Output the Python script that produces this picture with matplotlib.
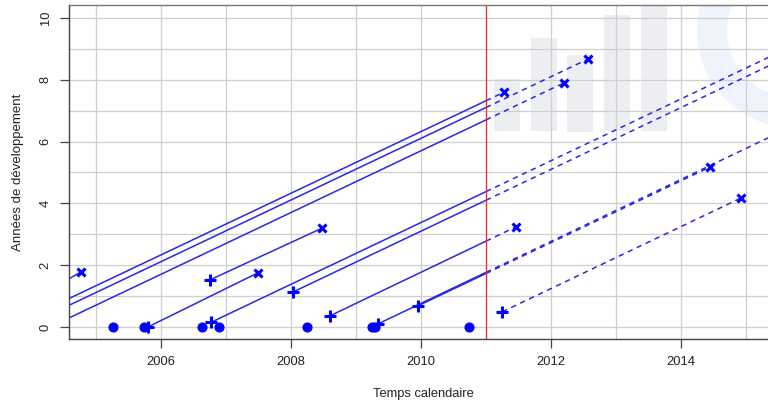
import numpy as np
import matplotlib
matplotlib.use("Agg")
import matplotlib.pyplot as plt
from matplotlib.patches import Rectangle, Wedge
from matplotlib.transforms import IdentityTransform

plt.rcParams['font.family'] = ['Liberation Sans', 'DejaVu Sans']

# survenances (points à l'âge 0)
occ_t = [2005.26, 2005.74, 2006.63, 2006.89, 2008.25, 2009.24, 2009.29, 2010.74]
occ_age = [0, 0, 0, 0, 0, 0, 0, 0]

# déclarations (+)
decl_t = [2005.80, 2006.75, 2006.77, 2008.03, 2008.60, 2009.34, 2009.95, 2011.25]
decl_age = [0.00, 1.52, 0.15, 1.13, 0.36, 0.10, 0.68, 0.49]

# clôtures (x)
clos_t = [2004.77, 2007.49, 2008.48, 2011.46, 2011.28, 2012.20, 2012.57, 2014.45, 2014.92]
clos_age = [1.78, 1.75, 3.20, 3.24, 7.60, 7.90, 8.67, 5.18, 4.17]

# segments de vie des sinistres
seg_t0 = [2004.585, 2004.585, 2004.585, 2004.585, 2005.80, 2006.75,
          2006.77, 2008.03, 2008.60, 2009.34, 2009.95, 2011.25]
seg_a0 = [0.92, 0.70, 0.29, 1.56, 0.00, 1.52, 0.15, 1.13, 0.36, 0.10, 0.68, 0.49]
seg_t1 = [2011.28, 2012.57, 2012.20, 2004.77, 2007.49, 2008.48,
          2015.60, 2015.60, 2011.46, 2015.60, 2014.45, 2014.92]
seg_a1 = [7.60, 8.67, 7.90, 1.78, 1.75, 3.20, 8.98, 8.70, 3.24, 6.38, 5.18, 4.17]

cutoff = 2011

blue = '#0000ff'
lblue = '#2828e6'

fig = plt.figure(figsize=(7.68, 4.04), dpi=100)
ax = fig.add_axes([69 / 768, 65 / 404, 709.5 / 768, 334 / 404])
ax.set_xlim(2004.585, 2015.5)
ax.set_ylim(-0.39, 10.42)

# filigrane en fond
for x0, y0, x1, y1 in [(494, 79, 520, 131), (531, 38, 557, 131), (567, 55, 593, 132),
                       (604, 15, 630, 131), (641, 0, 667, 131)]:
    ax.add_patch(Rectangle((x0, 404 - y1), x1 - x0, y1 - y0, transform=IdentityTransform(),
                           facecolor='#eceef1', edgecolor='none', zorder=0.5))
ax.add_patch(Wedge((795, 404 - 30), 98, 0, 360, width=30, transform=IdentityTransform(),
                   facecolor='#eff3fc', edgecolor='none', zorder=0.5))

# grille annuelle
for yr in range(2005, 2016):
    ax.axvline(yr, color='#cfcfcf', lw=0.9, zorder=1)
for a in range(0, 11):
    ax.axhline(a, color='#cfcfcf', lw=0.9, zorder=1)

for t0, a0, t1, a1 in zip(seg_t0, seg_a0, seg_t1, seg_a1):
    if t0 < cutoff:
        te = min(t1, cutoff)
        ae = np.interp(te, [t0, t1], [a0, a1])
        ax.plot([t0, te], [a0, ae], color=lblue, lw=1.1, zorder=3)
    if t1 > cutoff:
        ts = max(t0, cutoff)
        as_ = np.interp(ts, [t0, t1], [a0, a1])
        ax.plot([ts, t1], [as_, a1], color=lblue, lw=1.1, ls=(0, (3.5, 3)), zorder=3)

ax.axvline(cutoff, color='#e03030', lw=0.9, zorder=4)

ax.plot(occ_t, occ_age, 'o', color=blue, ms=6.3, zorder=5, ls='none')
ax.plot(decl_t, decl_age, '+', color=blue, ms=8, mew=2.2, zorder=5, ls='none')
ax.plot(clos_t, clos_age, 'x', color=blue, ms=5.5, mew=2.2, zorder=5, ls='none')

ax.set_xticks([2006, 2008, 2010, 2012, 2014])
ax.set_yticks([0, 2, 4, 6, 8, 10])
ax.tick_params(axis='both', which='major', length=6.5, width=0.9, color='#444444',
               labelsize=9.3, labelcolor='#222222')
ax.tick_params(axis='x', pad=6)
ax.tick_params(axis='y', pad=6)
for lab in ax.get_yticklabels():
    lab.set_rotation(90)
    lab.set_va('center')

for s in ax.spines.values():
    s.set_color('#444444')
    s.set_linewidth(1)
    s.set_zorder(6)
ax.spines['top'].set_color('#777777')

ax.set_xlabel('Temps calendaire', fontsize=9.3, color='#222222', labelpad=14)
ax.set_ylabel('Années de développement', fontsize=9.5, color='#222222', labelpad=11)

fig.savefig('out.png', dpi=100)
